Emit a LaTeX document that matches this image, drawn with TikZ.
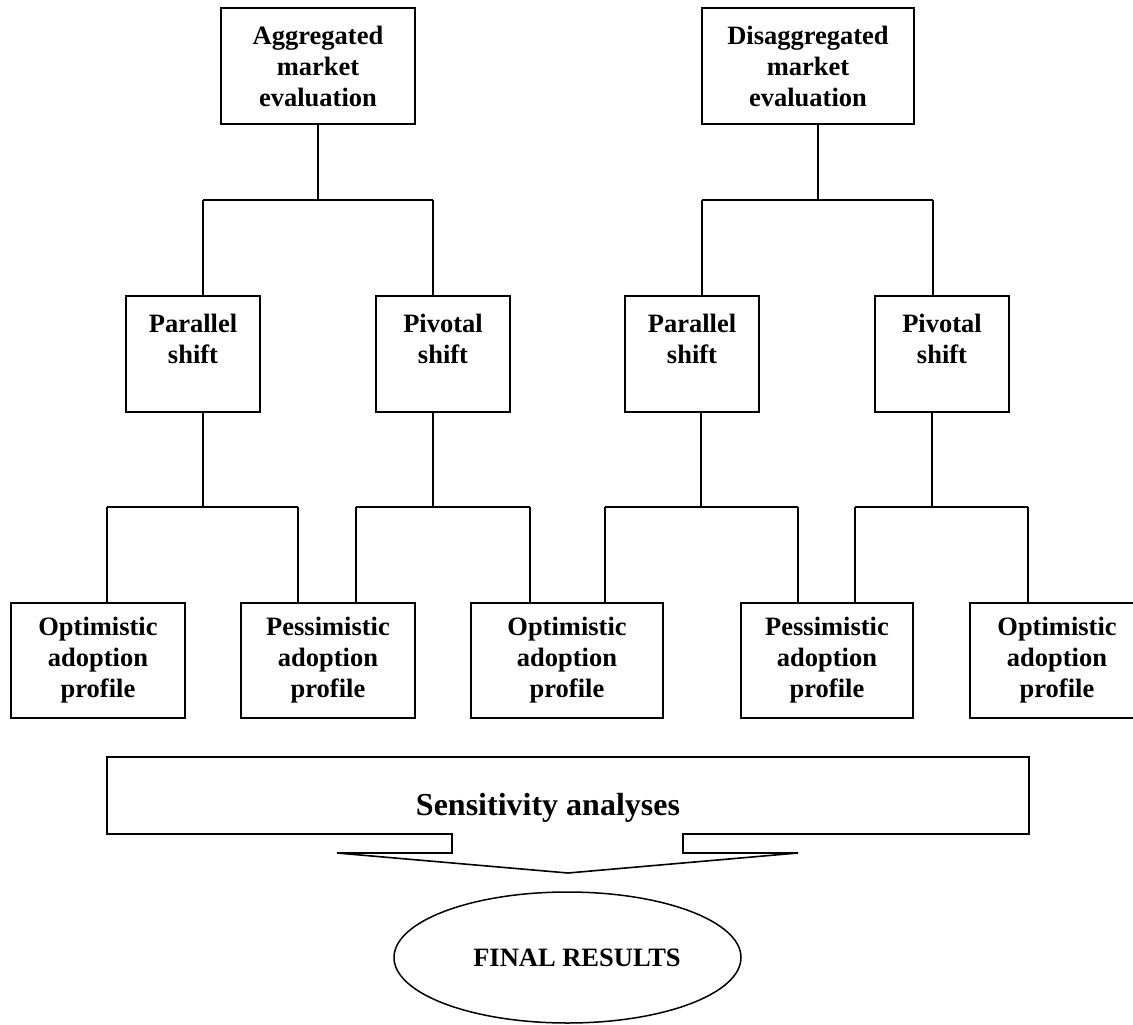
\documentclass[tikz,border=0pt]{standalone}
\usepackage{fontspec}
\setmainfont{Liberation Serif}
\usetikzlibrary{shapes.geometric}
\begin{document}
\begin{tikzpicture}[x=1pt,y=-1pt,
  box/.style={draw, line width=1.8pt, align=center, inner sep=0pt,
    font=\fontsize{26.5}{31}\selectfont\bfseries},
  topbox/.style={box, minimum height=116pt},
  midbox/.style={box, minimum width=134pt, minimum height=116pt},
  lowbox/.style={box, minimum height=115pt},
  conn/.style={line width=1.2pt}]
\useasboundingbox (0,0) rectangle (1133,1025);

% top level
\node[topbox, minimum width=194pt] (agg) at (318,66) {Aggregated\\market\\evaluation};
\node[topbox, minimum width=212pt] (dis) at (808,66) {Disaggregated\\market\\evaluation};

% second level
\node[midbox] (par1) at (193,354) {Parallel\\shift\\\mbox{}};
\node[midbox] (piv1) at (443,354) {Pivotal\\shift\\\mbox{}};
\node[midbox] (par2) at (692,354) {Parallel\\shift\\\mbox{}};
\node[midbox] (piv2) at (942,354) {Pivotal\\shift\\\mbox{}};

% third level
\node[lowbox, minimum width=174pt] (opt1) at (98,660.5) {Optimistic\\adoption\\profile};
\node[lowbox, minimum width=174pt] (pes1) at (328,660.5) {Pessimistic\\adoption\\profile};
\node[lowbox, minimum width=192pt] (opt2) at (567,660.5) {Optimistic\\adoption\\profile};
\node[lowbox, minimum width=172pt] (pes2) at (827,660.5) {Pessimistic\\adoption\\profile};
\node[lowbox, minimum width=174pt] (opt3) at (1057,660.5) {Optimistic\\adoption\\profile};

% connectors: top to second level
\coordinate (a0) at (318,200);
\coordinate (a1) at (203,200);
\coordinate (a2) at (433,200);
\draw[conn] (agg.south) -- (a0);
\draw[conn] (a1) -- (a2);
\draw[conn] (a1) -- (a1 |- par1.north);
\draw[conn] (a2) -- (a2 |- piv1.north);

\coordinate (d0) at (818,200);
\coordinate (d1) at (702,200);
\coordinate (d2) at (933,200);
\draw[conn] (d0 |- dis.south) -- (d0);
\draw[conn] (d1) -- (d2);
\draw[conn] (d1) -- (d1 |- par2.north);
\draw[conn] (d2) -- (d2 |- piv2.north);

% connectors: second to third level
\coordinate (b0) at (203,507);
\coordinate (bl) at (107,507);
\coordinate (br) at (298,507);
\draw[conn] (b0 |- par1.south) -- (b0);
\draw[conn] (bl) -- (br);
\draw[conn] (bl) -- (bl |- opt1.north);
\draw[conn] (br) -- (br |- pes1.north);

\coordinate (c0) at (433,507);
\coordinate (cl) at (356,507);
\coordinate (cr) at (530,507);
\draw[conn] (c0 |- piv1.south) -- (c0);
\draw[conn] (cl) -- (cr);
\draw[conn] (cl) -- (cl |- pes1.north);
\draw[conn] (cr) -- (cr |- opt2.north);

\coordinate (e0) at (701,507);
\coordinate (el) at (605,507);
\coordinate (er) at (798,507);
\draw[conn] (e0 |- par2.south) -- (e0);
\draw[conn] (el) -- (er);
\draw[conn] (el) -- (el |- opt2.north);
\draw[conn] (er) -- (er |- pes2.north);

\coordinate (f0) at (932,507);
\coordinate (fl) at (855,507);
\coordinate (fr) at (1028,507);
\draw[conn] (f0 |- piv2.south) -- (f0);
\draw[conn] (fl) -- (fr);
\draw[conn] (fl) -- (fl |- pes2.north);
\draw[conn] (fr) -- (fr |- opt3.north);

% sensitivity analyses callout
\draw[line width=1.6pt, line join=miter]
  (452,853) -- (452,834) -- (107,834) -- (107,757) -- (1029,757) -- (1029,834)
  -- (683,834) -- (683,853) -- (798,853) -- (568,873) -- (337,853) -- cycle;
\node[font=\fontsize{32}{38}\selectfont\bfseries, anchor=base, inner sep=0pt] (sens) at (548,815) {Sensitivity analyses};

% final results
\node[draw, ellipse, line width=1.5pt, minimum width=347pt, minimum height=131pt, inner sep=0pt,
  font=\fontsize{26.5}{31}\selectfont\bfseries] (fin) at (567.5,957.5) {\hspace*{19pt}FINAL RESULTS};
\end{tikzpicture}
\end{document}
